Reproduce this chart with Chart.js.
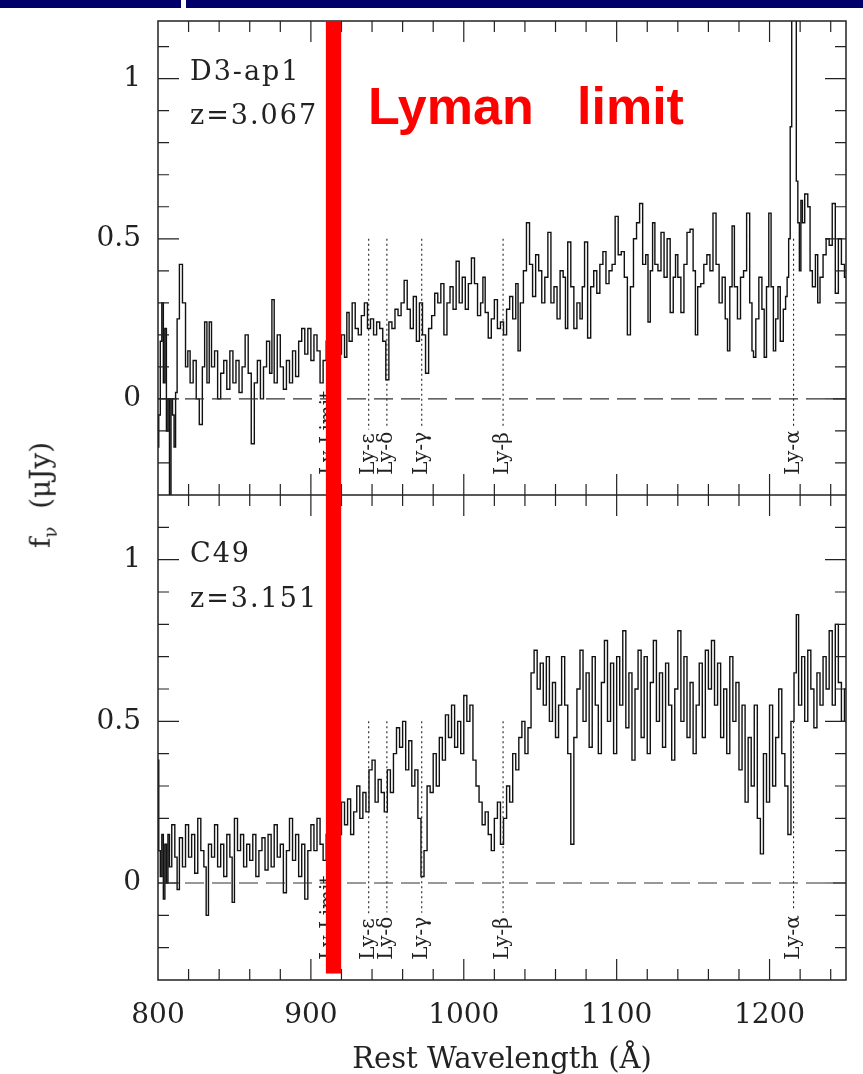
<!DOCTYPE html>
<html>
<head>
<meta charset="utf-8">
<script src="https://cdn.jsdelivr.net/npm/chart.js@4.4.1/dist/chart.umd.min.js"></script>
<style>
html, body { margin: 0; padding: 0; background: #fff; }
#page { position: relative; width: 863px; height: 1074px; overflow: hidden; font-family: 'DejaVu Serif', serif; color: #222; }
#topCanvas { position: absolute; left: 0; top: 0; }
#botCanvas { position: absolute; left: 0; top: 495px; }
.hdr { position: absolute; top: 0; height: 8px; background: #00006a; }
.lbl { position: absolute; left: 190px; font-size: 27px; line-height: 27px; letter-spacing: 2px; white-space: pre; color: #222; }
#lyman { position: absolute; left: 368px; top: 80px; font: bold 52px 'Liberation Sans', Arial, sans-serif; line-height: 52px; color: #ff0000; white-space: pre; }
#ytitle { position: absolute; left: 42px; top: 495px; transform: translate(-50%, -50%) rotate(-90deg); font-size: 28px; white-space: nowrap; color: #222; }
#ytitle sub { font-size: 18px; }
</style>
</head>
<body>
<div id="page">
  <canvas id="topCanvas" width="863" height="495" style="width:863px;height:495px"></canvas>
  <canvas id="botCanvas" width="863" height="579" style="width:863px;height:579px"></canvas>
  <div class="hdr" style="left:0;width:181px"></div>
  <div class="hdr" style="left:186px;width:677px"></div>
  <div class="lbl" style="top:57px">D3-ap1</div>
  <div class="lbl" style="top:101px">z=3.067</div>
  <div class="lbl" style="top:539px">C49</div>
  <div class="lbl" style="top:584px">z=3.151</div>
  <div id="lyman">Lyman   limit</div>
  <div id="ytitle">f<sub>ν</sub>&nbsp;&nbsp;(μJy)</div>
</div>
<script>
// axis ranges and tick labels
const xMin = 800;
const xMax = 1250;
const yMin = -0.3;
const yMaxTop = 1.18;
const yMaxBot = 1.2;
const xTickValues = [800, 900, 1000, 1100, 1200];
const yTickValues = [0, 0.5, 1];

// Lyman series markers
const lyNames = ['Ly-Limit', 'Ly-ε', 'Ly-δ', 'Ly-γ', 'Ly-β', 'Ly-α'];
const lyWaves = [912, 937.8, 949.7, 972.5, 1025.7, 1215.7];
const lyDotted = [false, true, true, true, true, true];
const lyLineTop = 0.5;
const lyLabelBase = -0.237;

// red band at the Lyman limit
const redBand = [909.8, 919.8];

// D3-ap1, z=3.067
const d3Wave = [800, 801, 802, 803, 804, 805, 806, 807, 808, 809, 810, 811, 812, 813, 815, 817, 819, 820, 822, 824,
  826, 828, 830, 831, 833, 834, 836, 838, 840, 842, 844, 846, 848, 850, 852, 854, 856, 858, 860, 862,
  864, 866, 868, 870, 872, 874, 875, 877, 879, 881, 883, 885, 887, 889, 891, 893, 895, 897, 899, 901,
  903, 905, 907, 909, 911, 913, 915, 917, 919, 921, 923, 924, 926, 928, 930, 932, 934, 936, 938, 940,
  942, 944, 946, 948, 950, 952, 954, 956, 958, 960, 962, 964, 966, 968, 970, 972, 974, 976, 978, 980,
  982, 984, 986, 988, 990, 992, 994, 996, 998, 1000, 1002, 1004, 1006, 1008, 1010, 1012, 1013, 1015, 1017, 1019,
  1021, 1023, 1025, 1027, 1029, 1031, 1033, 1035, 1036, 1038, 1040, 1042, 1044, 1046, 1048, 1050, 1052, 1054, 1056, 1058,
  1060, 1062, 1064, 1066, 1067, 1069, 1071, 1073, 1075, 1077, 1078, 1080, 1082, 1084, 1086, 1088, 1090, 1092, 1094, 1096,
  1098, 1100, 1102, 1104, 1106, 1108, 1110, 1112, 1114, 1116, 1118, 1120, 1121, 1123, 1124, 1126, 1128, 1130, 1132, 1134,
  1136, 1138, 1139, 1141, 1143, 1145, 1147, 1149, 1151, 1152, 1154, 1156, 1158, 1160, 1162, 1164, 1166, 1168, 1170, 1172,
  1173, 1175, 1176, 1178, 1180, 1182, 1184, 1186, 1188, 1189, 1190, 1192, 1194, 1196, 1197, 1199, 1200, 1202, 1203, 1205,
  1206, 1208, 1210, 1211, 1212, 1213, 1214, 1215, 1216, 1217, 1218, 1219, 1220, 1221, 1222, 1224, 1226, 1227, 1229, 1231,
  1232, 1234, 1236, 1238, 1240, 1242, 1244, 1246, 1248, 1250];
const d3Flux = [-0.15, -0.05, 0.18, 0.30, 0.05, 0.22, -0.10, 0.00, -0.30, 0.00, -0.05, -0.15, 0.02, 0.25, 0.42, 0.30, 0.10, 0.15, 0.05, 0.12,
  0.00, -0.08, 0.10, 0.24, 0.05, 0.24, 0.10, 0.15, 0.00, 0.08, 0.12, 0.03, 0.15, 0.05, 0.12, 0.02, 0.10, 0.20, 0.08, -0.14,
  0.05, 0.12, 0.00, 0.10, 0.18, 0.08, 0.31, 0.05, 0.20, 0.10, 0.03, 0.12, 0.05, 0.15, 0.07, 0.18, 0.22, 0.14, 0.22, 0.12,
  0.20, 0.15, 0.05, 0.12, 0.18, 0.12, 0.15, 0.10, 0.14, 0.20, 0.13, 0.27, 0.18, 0.30, 0.22, 0.20, 0.26, 0.30, 0.22, 0.25,
  0.20, 0.24, 0.22, 0.18, 0.06, 0.24, 0.22, 0.28, 0.26, 0.30, 0.37, 0.28, 0.22, 0.32, 0.18, 0.30, 0.20, 0.08, 0.22, 0.26,
  0.33, 0.30, 0.36, 0.20, 0.30, 0.35, 0.28, 0.43, 0.30, 0.38, 0.28, 0.36, 0.44, 0.36, 0.26, 0.30, 0.38, 0.27, 0.19, 0.25,
  0.31, 0.22, 0.24, 0.20, 0.28, 0.32, 0.25, 0.36, 0.15, 0.30, 0.40, 0.55, 0.42, 0.32, 0.45, 0.40, 0.30, 0.38, 0.52, 0.30,
  0.35, 0.25, 0.40, 0.38, 0.22, 0.49, 0.35, 0.22, 0.30, 0.25, 0.35, 0.49, 0.19, 0.35, 0.40, 0.33, 0.42, 0.46, 0.36, 0.40,
  0.42, 0.57, 0.45, 0.46, 0.38, 0.20, 0.35, 0.50, 0.55, 0.61, 0.42, 0.45, 0.24, 0.40, 0.55, 0.42, 0.40, 0.52, 0.38, 0.50,
  0.27, 0.38, 0.45, 0.38, 0.27, 0.42, 0.52, 0.53, 0.40, 0.20, 0.35, 0.36, 0.42, 0.45, 0.40, 0.58, 0.42, 0.30, 0.38, 0.25,
  0.15, 0.35, 0.54, 0.35, 0.25, 0.38, 0.40, 0.58, 0.30, 0.15, 0.13, 0.25, 0.38, 0.28, 0.13, 0.35, 0.58, 0.35, 0.15, 0.25,
  0.35, 0.18, 0.28, 0.32, 0.38, 0.50, 0.85, 1.30, 1.35, 1.25, 0.68, 0.55, 0.40, 0.62, 0.55, 0.64, 0.60, 0.40, 0.35, 0.45,
  0.30, 0.38, 0.45, 0.50, 0.48, 0.61, 0.33, 0.50, 0.42, 0.38];

// C49, z=3.151
const c49Wave = [800, 801, 802, 803, 804, 805, 806, 807, 808, 810, 812, 813, 815, 817, 819, 821, 823, 825, 827, 829,
  831, 832, 834, 836, 838, 840, 842, 844, 846, 848, 849, 851, 853, 855, 857, 859, 861, 863, 865, 867,
  869, 871, 873, 875, 877, 879, 881, 883, 885, 887, 889, 891, 893, 895, 897, 899, 901, 903, 905, 907,
  909, 911, 913, 915, 917, 919, 921, 923, 925, 927, 929, 931, 933, 935, 937, 939, 941, 943, 945, 947,
  949, 951, 953, 955, 957, 959, 961, 963, 965, 967, 969, 971, 973, 975, 977, 979, 981, 983, 985, 987,
  989, 991, 993, 995, 997, 999, 1001, 1003, 1005, 1007, 1009, 1011, 1013, 1015, 1017, 1019, 1021, 1023, 1025, 1027,
  1029, 1031, 1033, 1035, 1037, 1039, 1041, 1043, 1045, 1047, 1049, 1051, 1053, 1055, 1057, 1059, 1061, 1063, 1065, 1067,
  1069, 1071, 1073, 1075, 1077, 1079, 1081, 1083, 1085, 1087, 1089, 1091, 1093, 1095, 1097, 1099, 1101, 1103, 1105, 1107,
  1109, 1111, 1113, 1115, 1117, 1119, 1121, 1123, 1125, 1127, 1129, 1131, 1133, 1135, 1137, 1139, 1141, 1143, 1145, 1147,
  1149, 1151, 1153, 1155, 1157, 1159, 1161, 1163, 1165, 1167, 1169, 1171, 1173, 1175, 1177, 1179, 1181, 1183, 1185, 1187,
  1189, 1191, 1193, 1195, 1197, 1199, 1201, 1203, 1205, 1207, 1209, 1211, 1213, 1215, 1217, 1218, 1220, 1222, 1224, 1226,
  1228, 1230, 1232, 1234, 1236, 1238, 1240, 1242, 1244, 1246, 1248, 1250];
const c49Flux = [0.38, 0.10, 0.02, 0.15, -0.05, 0.12, 0.00, 0.15, 0.05, 0.18, 0.08, -0.02, 0.14, 0.05, 0.18, 0.08, 0.15, 0.03, 0.20, 0.10,
  0.05, -0.10, 0.12, 0.08, 0.18, 0.05, 0.12, 0.02, 0.15, 0.08, -0.06, 0.20, 0.10, 0.15, 0.05, 0.12, 0.07, 0.15, 0.02, 0.10,
  0.14, 0.04, 0.15, 0.05, 0.18, 0.08, 0.12, -0.03, 0.10, 0.20, 0.07, 0.15, 0.02, 0.12, -0.05, 0.10, 0.18, 0.10, 0.20, 0.12,
  0.07, 0.15, 0.12, 0.18, 0.10, 0.15, 0.25, 0.18, 0.26, 0.15, 0.22, 0.30, 0.20, 0.28, 0.22, 0.35, 0.38, 0.25, 0.32, 0.28,
  0.22, 0.35, 0.28, 0.40, 0.48, 0.42, 0.50, 0.35, 0.44, 0.30, 0.35, 0.20, 0.02, 0.10, 0.30, 0.28, 0.40, 0.30, 0.45, 0.38,
  0.52, 0.45, 0.55, 0.42, 0.50, 0.40, 0.58, 0.50, 0.55, 0.38, 0.30, 0.25, 0.18, 0.22, 0.15, 0.10, 0.20, 0.25, 0.12, 0.20,
  0.30, 0.25, 0.40, 0.35, 0.45, 0.50, 0.40, 0.48, 0.65, 0.72, 0.60, 0.68, 0.55, 0.70, 0.50, 0.62, 0.45, 0.55, 0.70, 0.55,
  0.40, 0.12, 0.45, 0.60, 0.72, 0.50, 0.65, 0.42, 0.70, 0.55, 0.40, 0.62, 0.75, 0.50, 0.68, 0.40, 0.70, 0.55, 0.78, 0.48,
  0.65, 0.38, 0.60, 0.72, 0.45, 0.70, 0.40, 0.62, 0.75, 0.50, 0.65, 0.42, 0.68, 0.55, 0.38, 0.60, 0.78, 0.50, 0.70, 0.45,
  0.62, 0.40, 0.55, 0.68, 0.45, 0.72, 0.60, 0.75, 0.55, 0.68, 0.45, 0.60, 0.40, 0.70, 0.50, 0.62, 0.35, 0.55, 0.25, 0.45,
  0.30, 0.55, 0.20, 0.09, 0.40, 0.25, 0.55, 0.30, 0.45, 0.60, 0.40, 0.30, 0.15, 0.50, 0.65, 0.83, 0.55, 0.70, 0.50, 0.72,
  0.60, 0.48, 0.65, 0.55, 0.70, 0.60, 0.78, 0.55, 0.80, 0.62, 0.50, 0.60];

const ink = '#222';

// zero line, line markers, boxed frame with inward ticks, red band
const panelDecor = {
  id: 'panelDecor',
  afterDatasetsDraw(chart, args, opts) {
    const ctx = chart.ctx;
    const a = chart.chartArea;
    const xs = chart.scales.x;
    const ys = chart.scales.y;
    ctx.save();

    const y0 = ys.getPixelForValue(0);
    ctx.beginPath();
    ctx.setLineDash([19, 8]);
    ctx.strokeStyle = '#333';
    ctx.lineWidth = 1.2;
    ctx.moveTo(a.left, y0);
    ctx.lineTo(a.right, y0);
    ctx.stroke();

    ctx.font = '20px "DejaVu Serif"';
    ctx.fillStyle = ink;
    lyNames.forEach((name, i) =>
    {
        const px = xs.getPixelForValue(lyWaves[i]);
        const yb = ys.getPixelForValue(lyLabelBase);
        const w = ctx.measureText(name).width;
        if (lyDotted[i])
        {
            ctx.beginPath();
            ctx.setLineDash([2, 3]);
            ctx.lineWidth = 1.1;
            ctx.strokeStyle = ink;
            ctx.moveTo(px, ys.getPixelForValue(lyLineTop));
            ctx.lineTo(px, yb - w - 4);
            ctx.stroke();
        }
        ctx.save();
        ctx.translate(px, yb);
        ctx.rotate(-Math.PI / 2);
        ctx.textAlign = 'left';
        ctx.textBaseline = 'middle';
        ctx.fillText(name, 0, 0);
        ctx.restore();
    });

    // frame
    ctx.setLineDash([]);
    ctx.strokeStyle = ink;
    ctx.lineWidth = 1.5;
    ctx.strokeRect(a.left, a.top, a.right - a.left, a.bottom - a.top);

    // inward ticks, every 20 A and every 0.1
    ctx.lineWidth = 1.2;
    ctx.beginPath();
    for (let v = xMin + 20; v < xMax; v += 20)
    {
        const px = xs.getPixelForValue(v);
        const len = v % 100 === 0 ? 21 : 11;
        ctx.moveTo(px, a.bottom); ctx.lineTo(px, a.bottom - len);
        ctx.moveTo(px, a.top); ctx.lineTo(px, a.top + len);
    }
    for (let k = -2; k / 10 < ys.max - 0.001; k++)
    {
        const py = ys.getPixelForValue(k / 10);
        const len = k % 5 === 0 ? 21 : 11;
        ctx.moveTo(a.left, py); ctx.lineTo(a.left + len, py);
        ctx.moveTo(a.right, py); ctx.lineTo(a.right - len, py);
    }
    ctx.stroke();

    // red band
    const x1 = xs.getPixelForValue(redBand[0]);
    const x2 = xs.getPixelForValue(redBand[1]);
    const yEnd = Math.min(a.bottom, ys.getPixelForValue(opts.redTo));
    ctx.fillStyle = '#ff0000';
    ctx.fillRect(x1, a.top, x2 - x1, yEnd - a.top);

    ctx.restore();
  }
};

const tickFont = { family: 'DejaVu Serif', size: 28 };

function makePanel(canvasId, wave, flux, yMax, showX, redTo)
{
    const xScale =
    {
        type: 'linear',
        min: xMin,
        max: xMax,
        display: showX,
        grid: { display: false, drawTicks: false },
        border: { display: false },
        ticks: { padding: 19, color: ink, font: tickFont, maxRotation: 0, autoSkip: false, callback: (v) => String(v) },
        afterBuildTicks: (s) => { s.ticks = xTickValues.map((v) => ({ value: v })); },
        title: { display: showX, text: 'Rest Wavelength (Å)', color: ink, font: { family: 'DejaVu Serif', size: 29 }, padding: { top: 0, bottom: -4 } }
    };
    if (showX)
    {
        xScale.afterFit = (s) => { s.height = 94; s.paddingLeft = 0; s.paddingRight = 0; };
    }

    return new Chart(document.getElementById(canvasId),
    {
        type: 'line',
        data:
        {
            datasets:
            [
                {
                    data: wave.map((w, i) => ({ x: w, y: flux[i] })),
                    borderColor: '#111',
                    borderWidth: 1.4,
                    pointRadius: 0,
                    stepped: 'middle',
                    fill: false
                }
            ]
        },
        options:
        {
            responsive: false,
            animation: false,
            events: [],
            layout: { padding: { top: showX ? 0 : 21, right: 17, left: 0, bottom: 0 } },
            plugins:
            {
                legend: { display: false },
                tooltip: { enabled: false },
                panelDecor: { redTo: redTo }
            },
            scales:
            {
                x: xScale,
                y:
                {
                    type: 'linear',
                    min: yMin,
                    max: yMax,
                    grid: { display: false, drawTicks: false },
                    border: { display: false },
                    ticks: { padding: 17, color: ink, font: tickFont, callback: (v) => String(v) },
                    afterBuildTicks: (s) => { s.ticks = yTickValues.map((v) => ({ value: v })); },
                    afterFit: (s) => { s.width = 158; s.paddingTop = 0; s.paddingBottom = 0; }
                }
            }
        },
        plugins: [panelDecor]
    });
}

makePanel('topCanvas', d3Wave, d3Flux, yMaxTop, false, yMin);
makePanel('botCanvas', c49Wave, c49Flux, yMaxBot, true, -0.28);
</script>
</body>
</html>
